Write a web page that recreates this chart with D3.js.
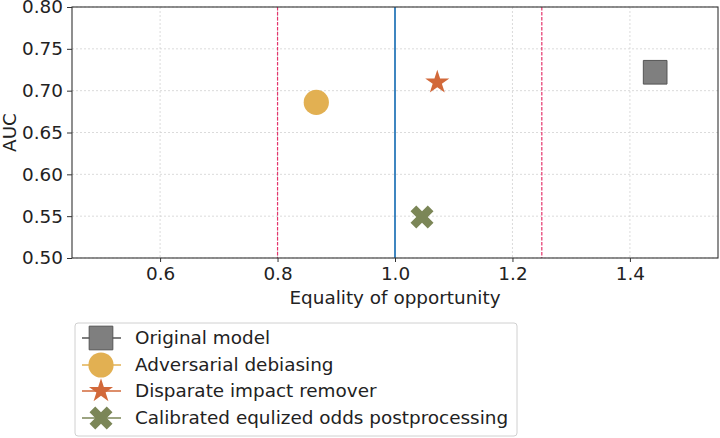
<!DOCTYPE html>
<html><head><meta charset="utf-8">
<script src="https://cdn.jsdelivr.net/npm/d3@7"></script>
<style>body{margin:0;background:#fff}svg{display:block}text{font-family:"DejaVu Sans",sans-serif;fill:#222}</style>
</head><body><svg id="c" width="720" height="438"></svg>
<script>
const methods = ["Original model","Adversarial debiasing","Disparate impact remover","Calibrated equlized odds postprocessing"];
const eqOpp = [1.443, 0.866, 1.072, 1.046];
const auc = [0.722, 0.686, 0.710, 0.549];
const colors = ["#7f7f7f","#e2b052","#d2693a","#7b8657"];
const xTicks = [0.6, 0.8, 1.0, 1.2, 1.4];
const yTicks = [0.50, 0.55, 0.60, 0.65, 0.70, 0.75, 0.80];
const refDashed = [0.8, 1.25];
const refSolid = [1.0];

const FS = 18.4;
const svg = d3.select("#c");
const L=72,R=718,T=7,B=258;
const x = d3.scaleLinear().domain([0.45,1.55]).range([L,R]);
const y = d3.scaleLinear().domain([0.5,0.8]).range([B,T]);

// grid
svg.append("g").selectAll("line").data(xTicks).join("line")
 .attr("x1",d=>x(d)).attr("x2",d=>x(d)).attr("y1",T).attr("y2",B)
 .attr("stroke","#d2d2d2").attr("stroke-width",0.8).attr("stroke-dasharray","2,2");
svg.append("g").selectAll("line").data(yTicks).join("line")
 .attr("y1",d=>y(d)).attr("y2",d=>y(d)).attr("x1",L).attr("x2",R)
 .attr("stroke","#d2d2d2").attr("stroke-width",0.8).attr("stroke-dasharray","2,2");

// reference lines
svg.append("g").selectAll("line").data(refDashed).join("line")
 .attr("x1",d=>x(d)).attr("x2",d=>x(d)).attr("y1",T).attr("y2",B)
 .attr("stroke","#e5356c").attr("stroke-width",1.2).attr("stroke-dasharray","3.5,1.5");
svg.append("g").selectAll("line").data(refSolid).join("line")
 .attr("x1",d=>x(d)).attr("x2",d=>x(d)).attr("y1",T).attr("y2",B)
 .attr("stroke","#3f86c0").attr("stroke-width",2);

// axes
const xa = svg.append("g").attr("transform",`translate(0,${B})`)
 .call(d3.axisBottom(x).tickValues(xTicks).tickFormat(d3.format(".1f")).tickSize(4).tickPadding(5));
const ya = svg.append("g").attr("transform",`translate(${L},0)`)
 .call(d3.axisLeft(y).tickValues(yTicks).tickFormat(d3.format(".2f")).tickSize(5).tickPadding(4));
[xa,ya].forEach(a=>{a.select(".domain").remove();a.selectAll("line").attr("stroke","#333");
 a.selectAll("text").attr("font-size",FS).attr("font-family","DejaVu Sans").attr("fill","#222");});
svg.append("rect").attr("x",L).attr("y",T).attr("width",R-L).attr("height",B-T)
 .attr("fill","none").attr("stroke","#333").attr("stroke-width",1.1);

svg.append("text").attr("x",(L+R)/2).attr("y",304).attr("text-anchor","middle").attr("font-size",FS).text("Equality of opportunity");
svg.append("text").attr("transform",`translate(16,${(T+B)/2}) rotate(-90)`).attr("text-anchor","middle").attr("font-size",FS).text("AUC");

const symbols = [
 {t:d3.symbolSquare,s:560,r:0,stroke:"#555"},
 {t:d3.symbolCircle,s:500,r:0,stroke:"none"},
 {t:d3.symbolStar,s:180,r:0,stroke:"none"},
 {t:d3.symbolCross,s:330,r:45,stroke:"none"}
];
const sym = i=>d3.symbol().type(symbols[i].t).size(symbols[i].s)();

svg.append("g").selectAll("path").data(methods).join("path")
 .attr("d",(d,i)=>sym(i))
 .attr("transform",(d,i)=>`translate(${x(eqOpp[i])},${y(auc[i])}) rotate(${symbols[i].r})`)
 .attr("fill",(d,i)=>colors[i]).attr("stroke",(d,i)=>symbols[i].stroke).attr("stroke-width",1);

// legend
const lg = svg.append("g");
lg.append("rect").attr("x",75).attr("y",323).attr("width",442).attr("height",113).attr("rx",3)
 .attr("fill","#fff").attr("stroke","#d0d0d0").attr("stroke-width",1);
const rowY = [338,365,391,418];
methods.forEach((m,i)=>{
 lg.append("line").attr("x1",82).attr("x2",121).attr("y1",rowY[i]).attr("y2",rowY[i]).attr("stroke",i===0?"#555":colors[i]).attr("stroke-width",1.3);
 lg.append("path").attr("d",sym(i)).attr("transform",`translate(101,${rowY[i]}) rotate(${symbols[i].r})`)
  .attr("fill",colors[i]).attr("stroke",symbols[i].stroke).attr("stroke-width",1);
 lg.append("text").attr("x",135).attr("y",rowY[i]).attr("dy","0.35em").attr("font-size",FS).text(m);
});
</script></body></html>
